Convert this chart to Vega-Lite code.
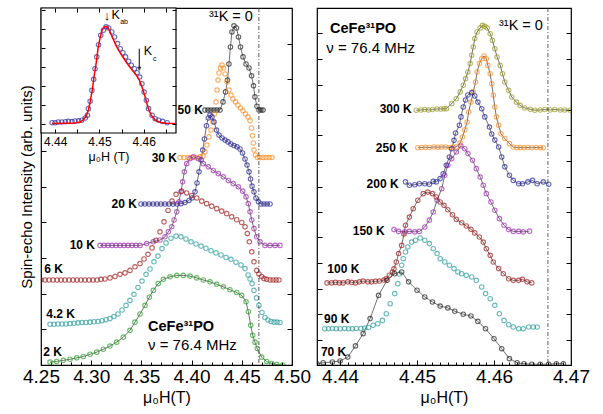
{
"$schema":"https://vega.github.io/schema/vega-lite/v6.json",
"background":"white",
"padding":{"left":18,"top":6,"right":10,"bottom":2},
"config":{"font":"Liberation Sans","view":{"stroke":"black","strokeWidth":1.2},"axis":{"grid":false,"domain":false,"labelFont":"Liberation Sans","titleFont":"Liberation Sans","labelColor":"black","titleColor":"black","tickColor":"black","titleFontWeight":"normal","tickWidth":1},"text":{"font":"Liberation Sans"}},
"datasets":{
"L":[
{"t":"50 K","x":4.4133,"y":7.14},{"t":"50 K","x":4.4163,"y":7.14},{"t":"50 K","x":4.4193,"y":7.14},{"t":"50 K","x":4.4223,"y":7.14},{"t":"50 K","x":4.4253,"y":7.14},{"t":"50 K","x":4.4283,"y":7.14},{"t":"50 K","x":4.4313,"y":7.37},{"t":"50 K","x":4.4338,"y":7.65},{"t":"50 K","x":4.4358,"y":7.98},{"t":"50 K","x":4.4372,"y":8.43},{"t":"50 K","x":4.4387,"y":8.91},{"t":"50 K","x":4.4402,"y":9.33},{"t":"50 K","x":4.4422,"y":9.5},{"t":"50 K","x":4.4447,"y":9.44},{"t":"50 K","x":4.4467,"y":9.19},{"t":"50 K","x":4.4487,"y":8.91},{"t":"50 K","x":4.4512,"y":8.63},{"t":"50 K","x":4.4542,"y":8.43},{"t":"50 K","x":4.4572,"y":8.32},{"t":"50 K","x":4.4597,"y":8.1},{"t":"50 K","x":4.4617,"y":7.82},{"t":"50 K","x":4.4631,"y":7.51},{"t":"50 K","x":4.4651,"y":7.25},{"t":"50 K","x":4.4671,"y":7.14},{"t":"50 K","x":4.4691,"y":7.14},{"t":"50 K","x":4.4711,"y":7.14},
{"t":"30 K","x":4.3884,"y":5.81},{"t":"30 K","x":4.3924,"y":5.81},{"t":"30 K","x":4.3964,"y":5.81},{"t":"30 K","x":4.4004,"y":5.81},{"t":"30 K","x":4.4044,"y":5.81},{"t":"30 K","x":4.4084,"y":5.83},{"t":"30 K","x":4.4114,"y":5.85},{"t":"30 K","x":4.4133,"y":5.97},{"t":"30 K","x":4.4153,"y":6.16},{"t":"30 K","x":4.4173,"y":6.39},{"t":"30 K","x":4.4193,"y":6.58},{"t":"30 K","x":4.4213,"y":6.81},{"t":"30 K","x":4.4228,"y":7.03},{"t":"30 K","x":4.4243,"y":7.37},{"t":"30 K","x":4.4253,"y":7.7},{"t":"30 K","x":4.4263,"y":7.98},{"t":"30 K","x":4.4273,"y":8.18},{"t":"30 K","x":4.4288,"y":8.32},{"t":"30 K","x":4.4303,"y":8.4},{"t":"30 K","x":4.4318,"y":8.32},{"t":"30 K","x":4.4333,"y":8.15},{"t":"30 K","x":4.4353,"y":7.93},{"t":"30 K","x":4.4372,"y":7.7},{"t":"30 K","x":4.4392,"y":7.56},{"t":"30 K","x":4.4412,"y":7.45},{"t":"30 K","x":4.4437,"y":7.37},{"t":"30 K","x":4.4462,"y":7.28},{"t":"30 K","x":4.4487,"y":7.2},{"t":"30 K","x":4.4512,"y":7.12},{"t":"30 K","x":4.4537,"y":7.03},{"t":"30 K","x":4.4562,"y":6.95},{"t":"30 K","x":4.4582,"y":6.84},{"t":"30 K","x":4.4597,"y":6.64},{"t":"30 K","x":4.4607,"y":6.42},{"t":"30 K","x":4.4615,"y":6.22},{"t":"30 K","x":4.4621,"y":6.02},{"t":"30 K","x":4.4636,"y":5.88},{"t":"30 K","x":4.4656,"y":5.81},{"t":"30 K","x":4.4681,"y":5.81},{"t":"30 K","x":4.4711,"y":5.81},{"t":"30 K","x":4.4741,"y":5.81},{"t":"30 K","x":4.4771,"y":5.81},{"t":"30 K","x":4.4801,"y":5.81},
{"t":"20 K","x":4.3496,"y":4.51},{"t":"20 K","x":4.3536,"y":4.51},{"t":"20 K","x":4.3576,"y":4.51},{"t":"20 K","x":4.3616,"y":4.51},{"t":"20 K","x":4.3655,"y":4.51},{"t":"20 K","x":4.3695,"y":4.51},{"t":"20 K","x":4.3735,"y":4.51},{"t":"20 K","x":4.3775,"y":4.51},{"t":"20 K","x":4.3815,"y":4.51},{"t":"20 K","x":4.3855,"y":4.51},{"t":"20 K","x":4.3894,"y":4.52},{"t":"20 K","x":4.3934,"y":4.55},{"t":"20 K","x":4.3974,"y":4.61},{"t":"20 K","x":4.4004,"y":4.68},{"t":"20 K","x":4.4034,"y":4.85},{"t":"20 K","x":4.4054,"y":5.1},{"t":"20 K","x":4.4074,"y":5.41},{"t":"20 K","x":4.4094,"y":5.74},{"t":"20 K","x":4.4111,"y":6.02},{"t":"20 K","x":4.4128,"y":6.33},{"t":"20 K","x":4.4148,"y":6.7},{"t":"20 K","x":4.4166,"y":6.92},{"t":"20 K","x":4.4183,"y":7.0},{"t":"20 K","x":4.4203,"y":6.95},{"t":"20 K","x":4.4223,"y":6.81},{"t":"20 K","x":4.4248,"y":6.58},{"t":"20 K","x":4.4273,"y":6.44},{"t":"20 K","x":4.4303,"y":6.36},{"t":"20 K","x":4.4333,"y":6.3},{"t":"20 K","x":4.4363,"y":6.25},{"t":"20 K","x":4.4392,"y":6.19},{"t":"20 K","x":4.4422,"y":6.15},{"t":"20 K","x":4.4452,"y":6.11},{"t":"20 K","x":4.4482,"y":6.05},{"t":"20 K","x":4.4507,"y":5.94},{"t":"20 K","x":4.4532,"y":5.77},{"t":"20 K","x":4.4552,"y":5.6},{"t":"20 K","x":4.4572,"y":5.41},{"t":"20 K","x":4.4587,"y":5.21},{"t":"20 K","x":4.4602,"y":5.01},{"t":"20 K","x":4.4621,"y":4.85},{"t":"20 K","x":4.4641,"y":4.68},{"t":"20 K","x":4.4666,"y":4.57},{"t":"20 K","x":4.4691,"y":4.51},{"t":"20 K","x":4.4721,"y":4.51},{"t":"20 K","x":4.4751,"y":4.51},{"t":"20 K","x":4.4781,"y":4.51},
{"t":"10 K","x":4.3088,"y":3.35},{"t":"10 K","x":4.3127,"y":3.35},{"t":"10 K","x":4.3167,"y":3.35},{"t":"10 K","x":4.3207,"y":3.35},{"t":"10 K","x":4.3247,"y":3.35},{"t":"10 K","x":4.3287,"y":3.35},{"t":"10 K","x":4.3327,"y":3.35},{"t":"10 K","x":4.3367,"y":3.35},{"t":"10 K","x":4.3406,"y":3.35},{"t":"10 K","x":4.3446,"y":3.35},{"t":"10 K","x":4.3486,"y":3.35},{"t":"10 K","x":4.3553,"y":3.4},{"t":"10 K","x":4.3618,"y":3.45},{"t":"10 K","x":4.3685,"y":3.5},{"t":"10 K","x":4.3735,"y":3.59},{"t":"10 K","x":4.3768,"y":3.73},{"t":"10 K","x":4.3802,"y":3.87},{"t":"10 K","x":4.3825,"y":4.06},{"t":"10 K","x":4.3852,"y":4.29},{"t":"10 K","x":4.3874,"y":4.57},{"t":"10 K","x":4.3894,"y":4.85},{"t":"10 K","x":4.3911,"y":5.13},{"t":"10 K","x":4.3927,"y":5.41},{"t":"10 K","x":4.3951,"y":5.64},{"t":"10 K","x":4.3984,"y":5.78},{"t":"10 K","x":4.4017,"y":5.83},{"t":"10 K","x":4.4067,"y":5.78},{"t":"10 K","x":4.4117,"y":5.64},{"t":"10 K","x":4.4166,"y":5.55},{"t":"10 K","x":4.4216,"y":5.45},{"t":"10 K","x":4.4266,"y":5.36},{"t":"10 K","x":4.4316,"y":5.27},{"t":"10 K","x":4.4366,"y":5.17},{"t":"10 K","x":4.4415,"y":5.08},{"t":"10 K","x":4.4465,"y":4.99},{"t":"10 K","x":4.4509,"y":4.87},{"t":"10 K","x":4.4542,"y":4.71},{"t":"10 K","x":4.4565,"y":4.52},{"t":"10 K","x":4.4582,"y":4.29},{"t":"10 K","x":4.4599,"y":4.06},{"t":"10 K","x":4.4621,"y":3.82},{"t":"10 K","x":4.4648,"y":3.59},{"t":"10 K","x":4.4681,"y":3.45},{"t":"10 K","x":4.4731,"y":3.35},{"t":"10 K","x":4.4781,"y":3.35},{"t":"10 K","x":4.4831,"y":3.35},{"t":"10 K","x":4.488,"y":3.35},
{"t":"6 K","x":4.25,"y":2.38},{"t":"6 K","x":4.254,"y":2.38},{"t":"6 K","x":4.258,"y":2.38},{"t":"6 K","x":4.262,"y":2.38},{"t":"6 K","x":4.266,"y":2.38},{"t":"6 K","x":4.2699,"y":2.38},{"t":"6 K","x":4.2739,"y":2.38},{"t":"6 K","x":4.2779,"y":2.38},{"t":"6 K","x":4.2819,"y":2.38},{"t":"6 K","x":4.2859,"y":2.38},{"t":"6 K","x":4.2898,"y":2.38},{"t":"6 K","x":4.2938,"y":2.38},{"t":"6 K","x":4.2978,"y":2.38},{"t":"6 K","x":4.3018,"y":2.38},{"t":"6 K","x":4.3058,"y":2.38},{"t":"6 K","x":4.3098,"y":2.4},{"t":"6 K","x":4.3137,"y":2.41},{"t":"6 K","x":4.3187,"y":2.44},{"t":"6 K","x":4.3237,"y":2.48},{"t":"6 K","x":4.3287,"y":2.54},{"t":"6 K","x":4.3337,"y":2.58},{"t":"6 K","x":4.3386,"y":2.65},{"t":"6 K","x":4.3436,"y":2.75},{"t":"6 K","x":4.3486,"y":2.84},{"t":"6 K","x":4.3526,"y":2.97},{"t":"6 K","x":4.3566,"y":3.1},{"t":"6 K","x":4.3606,"y":3.28},{"t":"6 K","x":4.3645,"y":3.49},{"t":"6 K","x":4.3685,"y":3.73},{"t":"6 K","x":4.3725,"y":4.01},{"t":"6 K","x":4.3765,"y":4.33},{"t":"6 K","x":4.3805,"y":4.59},{"t":"6 K","x":4.3845,"y":4.78},{"t":"6 K","x":4.3901,"y":4.87},{"t":"6 K","x":4.3951,"y":4.82},{"t":"6 K","x":4.4001,"y":4.75},{"t":"6 K","x":4.4051,"y":4.68},{"t":"6 K","x":4.4101,"y":4.59},{"t":"6 K","x":4.415,"y":4.52},{"t":"6 K","x":4.42,"y":4.45},{"t":"6 K","x":4.425,"y":4.38},{"t":"6 K","x":4.43,"y":4.31},{"t":"6 K","x":4.435,"y":4.24},{"t":"6 K","x":4.4399,"y":4.15},{"t":"6 K","x":4.4449,"y":4.07},{"t":"6 K","x":4.4499,"y":3.99},{"t":"6 K","x":4.4532,"y":3.87},{"t":"6 K","x":4.4555,"y":3.68},{"t":"6 K","x":4.4575,"y":3.45},{"t":"6 K","x":4.4599,"y":3.17},{"t":"6 K","x":4.4621,"y":2.89},{"t":"6 K","x":4.4648,"y":2.65},{"t":"6 K","x":4.4671,"y":2.55},{"t":"6 K","x":4.4698,"y":2.48},{"t":"6 K","x":4.4721,"y":2.42},{"t":"6 K","x":4.4748,"y":2.4},{"t":"6 K","x":4.4781,"y":2.38},{"t":"6 K","x":4.4811,"y":2.38},{"t":"6 K","x":4.4841,"y":2.38},{"t":"6 K","x":4.487,"y":2.38},
{"t":"4.2 K","x":4.259,"y":1.14},{"t":"4.2 K","x":4.2629,"y":1.14},{"t":"4.2 K","x":4.2669,"y":1.15},{"t":"4.2 K","x":4.2709,"y":1.15},{"t":"4.2 K","x":4.2749,"y":1.15},{"t":"4.2 K","x":4.2789,"y":1.16},{"t":"4.2 K","x":4.2829,"y":1.17},{"t":"4.2 K","x":4.2869,"y":1.18},{"t":"4.2 K","x":4.2908,"y":1.19},{"t":"4.2 K","x":4.2948,"y":1.19},{"t":"4.2 K","x":4.2988,"y":1.2},{"t":"4.2 K","x":4.3028,"y":1.21},{"t":"4.2 K","x":4.3068,"y":1.22},{"t":"4.2 K","x":4.3108,"y":1.24},{"t":"4.2 K","x":4.3147,"y":1.27},{"t":"4.2 K","x":4.3187,"y":1.3},{"t":"4.2 K","x":4.3227,"y":1.36},{"t":"4.2 K","x":4.3267,"y":1.43},{"t":"4.2 K","x":4.3307,"y":1.54},{"t":"4.2 K","x":4.3347,"y":1.67},{"t":"4.2 K","x":4.3386,"y":1.81},{"t":"4.2 K","x":4.3426,"y":1.98},{"t":"4.2 K","x":4.3466,"y":2.17},{"t":"4.2 K","x":4.3506,"y":2.35},{"t":"4.2 K","x":4.3546,"y":2.54},{"t":"4.2 K","x":4.3586,"y":2.69},{"t":"4.2 K","x":4.3625,"y":2.89},{"t":"4.2 K","x":4.3665,"y":3.05},{"t":"4.2 K","x":4.3705,"y":3.26},{"t":"4.2 K","x":4.3745,"y":3.42},{"t":"4.2 K","x":4.3795,"y":3.55},{"t":"4.2 K","x":4.3845,"y":3.61},{"t":"4.2 K","x":4.3894,"y":3.59},{"t":"4.2 K","x":4.3944,"y":3.53},{"t":"4.2 K","x":4.3994,"y":3.45},{"t":"4.2 K","x":4.4044,"y":3.39},{"t":"4.2 K","x":4.4094,"y":3.33},{"t":"4.2 K","x":4.4143,"y":3.27},{"t":"4.2 K","x":4.4193,"y":3.2},{"t":"4.2 K","x":4.4243,"y":3.14},{"t":"4.2 K","x":4.4293,"y":3.08},{"t":"4.2 K","x":4.4343,"y":3.01},{"t":"4.2 K","x":4.4392,"y":2.96},{"t":"4.2 K","x":4.4442,"y":2.88},{"t":"4.2 K","x":4.4492,"y":2.8},{"t":"4.2 K","x":4.4532,"y":2.7},{"t":"4.2 K","x":4.4562,"y":2.52},{"t":"4.2 K","x":4.4582,"y":2.41},{"t":"4.2 K","x":4.4602,"y":2.28},{"t":"4.2 K","x":4.4621,"y":2.09},{"t":"4.2 K","x":4.4646,"y":1.88},{"t":"4.2 K","x":4.4671,"y":1.67},{"t":"4.2 K","x":4.4701,"y":1.47},{"t":"4.2 K","x":4.4731,"y":1.33},{"t":"4.2 K","x":4.4761,"y":1.26},{"t":"4.2 K","x":4.4791,"y":1.22},{"t":"4.2 K","x":4.4821,"y":1.2},{"t":"4.2 K","x":4.4851,"y":1.2},{"t":"4.2 K","x":4.488,"y":1.19},
{"t":"2 K","x":4.259,"y":0.08},{"t":"2 K","x":4.2656,"y":0.1},{"t":"2 K","x":4.2722,"y":0.13},{"t":"2 K","x":4.2789,"y":0.16},{"t":"2 K","x":4.2856,"y":0.2},{"t":"2 K","x":4.2921,"y":0.24},{"t":"2 K","x":4.2988,"y":0.3},{"t":"2 K","x":4.3055,"y":0.36},{"t":"2 K","x":4.3121,"y":0.44},{"t":"2 K","x":4.3187,"y":0.53},{"t":"2 K","x":4.3254,"y":0.64},{"t":"2 K","x":4.332,"y":0.78},{"t":"2 K","x":4.3386,"y":0.97},{"t":"2 K","x":4.3436,"y":1.2},{"t":"2 K","x":4.3486,"y":1.43},{"t":"2 K","x":4.3536,"y":1.67},{"t":"2 K","x":4.3579,"y":1.9},{"t":"2 K","x":4.3619,"y":2.09},{"t":"2 K","x":4.3668,"y":2.28},{"t":"2 K","x":4.3718,"y":2.4},{"t":"2 K","x":4.3785,"y":2.47},{"t":"2 K","x":4.3852,"y":2.51},{"t":"2 K","x":4.3917,"y":2.51},{"t":"2 K","x":4.3984,"y":2.49},{"t":"2 K","x":4.4051,"y":2.44},{"t":"2 K","x":4.4117,"y":2.38},{"t":"2 K","x":4.4183,"y":2.33},{"t":"2 K","x":4.425,"y":2.26},{"t":"2 K","x":4.4316,"y":2.19},{"t":"2 K","x":4.4382,"y":2.11},{"t":"2 K","x":4.4449,"y":2.03},{"t":"2 K","x":4.4499,"y":1.95},{"t":"2 K","x":4.4542,"y":1.77},{"t":"2 K","x":4.4565,"y":1.49},{"t":"2 K","x":4.4589,"y":1.11},{"t":"2 K","x":4.4609,"y":0.83},{"t":"2 K","x":4.4631,"y":0.64},{"t":"2 K","x":4.4654,"y":0.46},{"t":"2 K","x":4.4698,"y":0.22},{"t":"2 K","x":4.4748,"y":0.1},{"t":"2 K","x":4.4798,"y":0.04},{"t":"2 K","x":4.4848,"y":0.01},{"t":"2 K","x":4.4907,"y":0.0}
],
"R":[
{"t":"300 K","x":4.4499,"y":9.99},{"t":"300 K","x":4.4505,"y":10.0},{"t":"300 K","x":4.451,"y":10.02},{"t":"300 K","x":4.4515,"y":10.0},{"t":"300 K","x":4.452,"y":10.02},{"t":"300 K","x":4.4526,"y":10.04},{"t":"300 K","x":4.4531,"y":10.04},{"t":"300 K","x":4.4535,"y":10.05},{"t":"300 K","x":4.4538,"y":10.05},{"t":"300 K","x":4.4545,"y":10.25},{"t":"300 K","x":4.4551,"y":10.44},{"t":"300 K","x":4.4556,"y":10.71},{"t":"300 K","x":4.456,"y":10.97},{"t":"300 K","x":4.4563,"y":11.23},{"t":"300 K","x":4.4566,"y":11.49},{"t":"300 K","x":4.4569,"y":11.82},{"t":"300 K","x":4.4571,"y":12.15},{"t":"300 K","x":4.4573,"y":12.47},{"t":"300 K","x":4.4575,"y":12.8},{"t":"300 K","x":4.4578,"y":13.06},{"t":"300 K","x":4.4582,"y":13.22},{"t":"300 K","x":4.4585,"y":13.32},{"t":"300 K","x":4.4588,"y":13.28},{"t":"300 K","x":4.4591,"y":13.22},{"t":"300 K","x":4.4595,"y":12.99},{"t":"300 K","x":4.4598,"y":12.73},{"t":"300 K","x":4.4601,"y":12.4},{"t":"300 K","x":4.4604,"y":12.08},{"t":"300 K","x":4.4608,"y":11.75},{"t":"300 K","x":4.4611,"y":11.42},{"t":"300 K","x":4.4614,"y":11.1},{"t":"300 K","x":4.4619,"y":10.77},{"t":"300 K","x":4.4623,"y":10.51},{"t":"300 K","x":4.4629,"y":10.31},{"t":"300 K","x":4.4634,"y":10.18},{"t":"300 K","x":4.464,"y":10.08},{"t":"300 K","x":4.4647,"y":10.03},{"t":"300 K","x":4.4653,"y":9.99},{"t":"300 K","x":4.466,"y":10.0},{"t":"300 K","x":4.4666,"y":10.02},{"t":"300 K","x":4.4673,"y":10.0},{"t":"300 K","x":4.4679,"y":10.02},{"t":"300 K","x":4.4686,"y":10.0},{"t":"300 K","x":4.4692,"y":10.0},{"t":"300 K","x":4.4699,"y":9.99},
{"t":"250 K","x":4.4501,"y":8.52},{"t":"250 K","x":4.4506,"y":8.53},{"t":"250 K","x":4.4511,"y":8.54},{"t":"250 K","x":4.4516,"y":8.53},{"t":"250 K","x":4.4522,"y":8.55},{"t":"250 K","x":4.4527,"y":8.54},{"t":"250 K","x":4.4532,"y":8.55},{"t":"250 K","x":4.4537,"y":8.55},{"t":"250 K","x":4.4543,"y":8.53},{"t":"250 K","x":4.4547,"y":8.55},{"t":"250 K","x":4.4551,"y":8.55},{"t":"250 K","x":4.4556,"y":8.71},{"t":"250 K","x":4.4559,"y":8.94},{"t":"250 K","x":4.4562,"y":9.22},{"t":"250 K","x":4.4565,"y":9.53},{"t":"250 K","x":4.4567,"y":9.92},{"t":"250 K","x":4.457,"y":10.31},{"t":"250 K","x":4.4573,"y":10.71},{"t":"250 K","x":4.4576,"y":11.1},{"t":"250 K","x":4.4578,"y":11.49},{"t":"250 K","x":4.4581,"y":11.82},{"t":"250 K","x":4.4584,"y":12.01},{"t":"250 K","x":4.4587,"y":12.12},{"t":"250 K","x":4.459,"y":12.01},{"t":"250 K","x":4.4592,"y":11.75},{"t":"250 K","x":4.4595,"y":11.42},{"t":"250 K","x":4.4597,"y":11.03},{"t":"250 K","x":4.4599,"y":10.58},{"t":"250 K","x":4.4601,"y":10.12},{"t":"250 K","x":4.4603,"y":9.73},{"t":"250 K","x":4.4606,"y":9.4},{"t":"250 K","x":4.4609,"y":9.07},{"t":"250 K","x":4.4614,"y":8.88},{"t":"250 K","x":4.462,"y":8.68},{"t":"250 K","x":4.4625,"y":8.55},{"t":"250 K","x":4.463,"y":8.52},{"t":"250 K","x":4.4634,"y":8.53},{"t":"250 K","x":4.4639,"y":8.52},{"t":"250 K","x":4.4644,"y":8.53},{"t":"250 K","x":4.4649,"y":8.52},{"t":"250 K","x":4.4655,"y":8.53},{"t":"250 K","x":4.466,"y":8.52},{"t":"250 K","x":4.4664,"y":8.52},
{"t":"200 K","x":4.4485,"y":7.18},{"t":"200 K","x":4.449,"y":7.05},{"t":"200 K","x":4.4497,"y":7.07},{"t":"200 K","x":4.4503,"y":7.11},{"t":"200 K","x":4.451,"y":7.11},{"t":"200 K","x":4.4516,"y":7.09},{"t":"200 K","x":4.4521,"y":7.2},{"t":"200 K","x":4.4525,"y":7.18},{"t":"200 K","x":4.453,"y":7.31},{"t":"200 K","x":4.4534,"y":7.5},{"t":"200 K","x":4.4538,"y":7.83},{"t":"200 K","x":4.4542,"y":8.16},{"t":"200 K","x":4.4545,"y":8.48},{"t":"200 K","x":4.4548,"y":8.81},{"t":"200 K","x":4.455,"y":9.1},{"t":"200 K","x":4.4555,"y":9.4},{"t":"200 K","x":4.4557,"y":9.73},{"t":"200 K","x":4.456,"y":10.12},{"t":"200 K","x":4.4563,"y":10.39},{"t":"200 K","x":4.4566,"y":10.59},{"t":"200 K","x":4.4571,"y":10.68},{"t":"200 K","x":4.4575,"y":10.55},{"t":"200 K","x":4.4579,"y":10.31},{"t":"200 K","x":4.4584,"y":10.05},{"t":"200 K","x":4.4588,"y":9.73},{"t":"200 K","x":4.4594,"y":9.33},{"t":"200 K","x":4.4597,"y":9.06},{"t":"200 K","x":4.4601,"y":8.82},{"t":"200 K","x":4.4606,"y":8.55},{"t":"200 K","x":4.461,"y":8.16},{"t":"200 K","x":4.4614,"y":7.77},{"t":"200 K","x":4.462,"y":7.44},{"t":"200 K","x":4.4625,"y":7.24},{"t":"200 K","x":4.4632,"y":7.11},{"t":"200 K","x":4.4637,"y":7.11},{"t":"200 K","x":4.4644,"y":7.18},{"t":"200 K","x":4.465,"y":7.24},{"t":"200 K","x":4.4656,"y":7.11},{"t":"200 K","x":4.4664,"y":7.18},{"t":"200 K","x":4.4671,"y":7.09},
{"t":"150 K","x":4.447,"y":5.31},{"t":"150 K","x":4.4476,"y":5.24},{"t":"150 K","x":4.4484,"y":5.22},{"t":"150 K","x":4.449,"y":5.24},{"t":"150 K","x":4.4497,"y":5.22},{"t":"150 K","x":4.4503,"y":5.24},{"t":"150 K","x":4.451,"y":5.41},{"t":"150 K","x":4.4516,"y":5.68},{"t":"150 K","x":4.4521,"y":6.0},{"t":"150 K","x":4.4526,"y":6.46},{"t":"150 K","x":4.4532,"y":6.91},{"t":"150 K","x":4.4536,"y":7.44},{"t":"150 K","x":4.454,"y":7.83},{"t":"150 K","x":4.4545,"y":8.09},{"t":"150 K","x":4.4551,"y":8.35},{"t":"150 K","x":4.4557,"y":8.59},{"t":"150 K","x":4.4562,"y":8.48},{"t":"150 K","x":4.4566,"y":8.29},{"t":"150 K","x":4.4572,"y":8.03},{"t":"150 K","x":4.4577,"y":7.7},{"t":"150 K","x":4.4582,"y":7.37},{"t":"150 K","x":4.4586,"y":7.05},{"t":"150 K","x":4.459,"y":6.72},{"t":"150 K","x":4.4596,"y":6.39},{"t":"150 K","x":4.4601,"y":6.07},{"t":"150 K","x":4.4607,"y":5.74},{"t":"150 K","x":4.4613,"y":5.48},{"t":"150 K","x":4.4619,"y":5.31},{"t":"150 K","x":4.4625,"y":5.24},{"t":"150 K","x":4.4632,"y":5.24},{"t":"150 K","x":4.4638,"y":5.22},{"t":"150 K","x":4.4646,"y":5.25},
{"t":"100 K","x":4.4383,"y":3.22},{"t":"100 K","x":4.4389,"y":3.22},{"t":"100 K","x":4.4394,"y":3.24},{"t":"100 K","x":4.4399,"y":3.22},{"t":"100 K","x":4.4404,"y":3.22},{"t":"100 K","x":4.441,"y":3.26},{"t":"100 K","x":4.4415,"y":3.24},{"t":"100 K","x":4.442,"y":3.22},{"t":"100 K","x":4.4425,"y":3.26},{"t":"100 K","x":4.443,"y":3.29},{"t":"100 K","x":4.4436,"y":3.26},{"t":"100 K","x":4.4441,"y":3.26},{"t":"100 K","x":4.4446,"y":3.28},{"t":"100 K","x":4.4451,"y":3.29},{"t":"100 K","x":4.4457,"y":3.33},{"t":"100 K","x":4.446,"y":3.38},{"t":"100 K","x":4.4464,"y":3.52},{"t":"100 K","x":4.4468,"y":3.65},{"t":"100 K","x":4.447,"y":3.77},{"t":"100 K","x":4.4473,"y":4.04},{"t":"100 K","x":4.4476,"y":4.37},{"t":"100 K","x":4.448,"y":4.69},{"t":"100 K","x":4.4483,"y":5.14},{"t":"100 K","x":4.4485,"y":5.48},{"t":"100 K","x":4.449,"y":5.8},{"t":"100 K","x":4.4495,"y":6.13},{"t":"100 K","x":4.4501,"y":6.46},{"t":"100 K","x":4.4508,"y":6.72},{"t":"100 K","x":4.4514,"y":6.78},{"t":"100 K","x":4.452,"y":6.72},{"t":"100 K","x":4.4525,"y":6.59},{"t":"100 K","x":4.453,"y":6.39},{"t":"100 K","x":4.4535,"y":6.26},{"t":"100 K","x":4.454,"y":6.09},{"t":"100 K","x":4.4546,"y":5.89},{"t":"100 K","x":4.4551,"y":5.71},{"t":"100 K","x":4.4558,"y":5.58},{"t":"100 K","x":4.4564,"y":5.45},{"t":"100 K","x":4.457,"y":5.32},{"t":"100 K","x":4.4575,"y":5.18},{"t":"100 K","x":4.4581,"y":5.02},{"t":"100 K","x":4.4586,"y":4.82},{"t":"100 K","x":4.459,"y":4.56},{"t":"100 K","x":4.4595,"y":4.3},{"t":"100 K","x":4.4599,"y":4.04},{"t":"100 K","x":4.4606,"y":3.78},{"t":"100 K","x":4.4612,"y":3.58},{"t":"100 K","x":4.4619,"y":3.38},{"t":"100 K","x":4.4625,"y":3.32},{"t":"100 K","x":4.4632,"y":3.32},{"t":"100 K","x":4.4637,"y":3.36},{"t":"100 K","x":4.4643,"y":3.26},{"t":"100 K","x":4.4649,"y":3.22},
{"t":"90 K","x":4.438,"y":1.42},{"t":"90 K","x":4.4385,"y":1.42},{"t":"90 K","x":4.439,"y":1.43},{"t":"90 K","x":4.4395,"y":1.42},{"t":"90 K","x":4.44,"y":1.42},{"t":"90 K","x":4.4406,"y":1.43},{"t":"90 K","x":4.4411,"y":1.42},{"t":"90 K","x":4.4416,"y":1.42},{"t":"90 K","x":4.4421,"y":1.43},{"t":"90 K","x":4.4427,"y":1.43},{"t":"90 K","x":4.4432,"y":1.45},{"t":"90 K","x":4.4437,"y":1.47},{"t":"90 K","x":4.4443,"y":1.56},{"t":"90 K","x":4.4449,"y":1.62},{"t":"90 K","x":4.4455,"y":1.75},{"t":"90 K","x":4.446,"y":2.01},{"t":"90 K","x":4.4465,"y":2.4},{"t":"90 K","x":4.4471,"y":2.8},{"t":"90 K","x":4.4475,"y":3.19},{"t":"90 K","x":4.4477,"y":3.57},{"t":"90 K","x":4.448,"y":3.91},{"t":"90 K","x":4.4482,"y":4.17},{"t":"90 K","x":4.4485,"y":4.43},{"t":"90 K","x":4.4488,"y":4.63},{"t":"90 K","x":4.4493,"y":4.82},{"t":"90 K","x":4.4498,"y":4.89},{"t":"90 K","x":4.4504,"y":4.98},{"t":"90 K","x":4.451,"y":4.89},{"t":"90 K","x":4.4516,"y":4.76},{"t":"90 K","x":4.4521,"y":4.56},{"t":"90 K","x":4.4526,"y":4.37},{"t":"90 K","x":4.453,"y":4.17},{"t":"90 K","x":4.4536,"y":4.04},{"t":"90 K","x":4.4542,"y":3.91},{"t":"90 K","x":4.4548,"y":3.78},{"t":"90 K","x":4.4553,"y":3.65},{"t":"90 K","x":4.4558,"y":3.58},{"t":"90 K","x":4.4564,"y":3.52},{"t":"90 K","x":4.4571,"y":3.45},{"t":"90 K","x":4.4577,"y":3.32},{"t":"90 K","x":4.4584,"y":3.06},{"t":"90 K","x":4.4589,"y":2.8},{"t":"90 K","x":4.4595,"y":2.6},{"t":"90 K","x":4.4601,"y":2.34},{"t":"90 K","x":4.4607,"y":2.01},{"t":"90 K","x":4.4613,"y":1.75},{"t":"90 K","x":4.4619,"y":1.58},{"t":"90 K","x":4.4625,"y":1.49},{"t":"90 K","x":4.4632,"y":1.42},{"t":"90 K","x":4.4638,"y":1.42},{"t":"90 K","x":4.4645,"y":1.49},{"t":"90 K","x":4.4651,"y":1.49},{"t":"90 K","x":4.4656,"y":1.49},
{"t":"70 K","x":4.437,"y":0.05},{"t":"70 K","x":4.4378,"y":0.09},{"t":"70 K","x":4.439,"y":0.12},{"t":"70 K","x":4.44,"y":0.16},{"t":"70 K","x":4.441,"y":0.31},{"t":"70 K","x":4.442,"y":0.75},{"t":"70 K","x":4.443,"y":1.23},{"t":"70 K","x":4.4439,"y":1.82},{"t":"70 K","x":4.445,"y":2.73},{"t":"70 K","x":4.4461,"y":3.32},{"t":"70 K","x":4.4471,"y":3.58},{"t":"70 K","x":4.448,"y":3.65},{"t":"70 K","x":4.4489,"y":3.26},{"t":"70 K","x":4.45,"y":2.93},{"t":"70 K","x":4.451,"y":2.67},{"t":"70 K","x":4.452,"y":2.47},{"t":"70 K","x":4.453,"y":2.31},{"t":"70 K","x":4.454,"y":2.24},{"t":"70 K","x":4.4549,"y":2.11},{"t":"70 K","x":4.456,"y":1.99},{"t":"70 K","x":4.457,"y":1.92},{"t":"70 K","x":4.4579,"y":1.71},{"t":"70 K","x":4.4589,"y":1.42},{"t":"70 K","x":4.46,"y":1.03},{"t":"70 K","x":4.461,"y":0.64},{"t":"70 K","x":4.462,"y":0.25},{"t":"70 K","x":4.463,"y":0.09},{"t":"70 K","x":4.4639,"y":0.05},{"t":"70 K","x":4.4649,"y":0.03},{"t":"70 K","x":4.466,"y":0.03},{"t":"70 K","x":4.4671,"y":0.03},{"t":"70 K","x":4.4681,"y":0.05},{"t":"70 K","x":4.469,"y":0.05}
],
"I":[
{"x":4.4393,"y":0.07},{"x":4.44,"y":0.07},{"x":4.4407,"y":0.11},{"x":4.4415,"y":0.11},{"x":4.4423,"y":0.12},{"x":4.443,"y":0.14},{"x":4.4438,"y":0.13},{"x":4.4445,"y":0.16},{"x":4.4453,"y":0.17},{"x":4.446,"y":0.2},{"x":4.4468,"y":0.32},{"x":4.4473,"y":0.46},{"x":4.4475,"y":0.81},{"x":4.4479,"y":1.2},{"x":4.4483,"y":1.77},{"x":4.4487,"y":2.35},{"x":4.449,"y":2.91},{"x":4.4494,"y":3.53},{"x":4.4498,"y":4.17},{"x":4.4503,"y":4.67},{"x":4.4509,"y":4.93},{"x":4.4515,"y":5.11},{"x":4.4521,"y":5.05},{"x":4.4528,"y":4.84},{"x":4.4534,"y":4.58},{"x":4.4541,"y":4.23},{"x":4.4547,"y":3.96},{"x":4.4553,"y":3.75},{"x":4.4559,"y":3.53},{"x":4.4566,"y":3.3},{"x":4.4572,"y":3.09},{"x":4.4579,"y":2.91},{"x":4.4585,"y":2.7},{"x":4.4591,"y":2.47},{"x":4.4596,"y":2.12},{"x":4.4601,"y":1.68},{"x":4.4606,"y":1.25},{"x":4.4611,"y":0.81},{"x":4.4619,"y":0.46},{"x":4.4626,"y":0.28},{"x":4.4634,"y":0.2},{"x":4.4643,"y":0.14},{"x":4.4653,"y":0.07}
],
"F":[
{"x":4.4393,"y":0.03},{"x":4.4423,"y":0.04},{"x":4.4445,"y":0.05},{"x":4.4457,"y":0.11},{"x":4.4463,"y":0.21},{"x":4.447,"y":0.42},{"x":4.4475,"y":0.74},{"x":4.4479,"y":1.16},{"x":4.4484,"y":1.79},{"x":4.4488,"y":2.53},{"x":4.4493,"y":3.26},{"x":4.4497,"y":4.0},{"x":4.4502,"y":4.58},{"x":4.4506,"y":4.95},{"x":4.4511,"y":5.11},{"x":4.4515,"y":5.13},{"x":4.452,"y":5.05},{"x":4.4524,"y":4.84},{"x":4.4531,"y":4.47},{"x":4.4538,"y":4.11},{"x":4.4547,"y":3.74},{"x":4.4556,"y":3.42},{"x":4.4565,"y":3.11},{"x":4.4574,"y":2.84},{"x":4.4583,"y":2.58},{"x":4.459,"y":2.32},{"x":4.4597,"y":1.9},{"x":4.4604,"y":1.37},{"x":4.461,"y":0.84},{"x":4.4617,"y":0.47},{"x":4.4626,"y":0.21},{"x":4.4638,"y":0.08},{"x":4.4651,"y":0.04},{"x":4.4672,"y":0.03}
]
},
"hconcat":[
{
"width":251,"height":357,
"resolve":{"scale":{"x":"independent","y":"independent"}},
"layer":[
{
"resolve":{"axis":{"x":"independent","y":"independent"}},
"layer":[
{"data":{"name":"L"},"transform":[{"filter":{"field":"t","oneOf":["2 K","10 K","20 K","50 K"]}}],"mark":{"type":"line","color":"#111111","strokeWidth":0.6,"clip":true},
"encoding":{
"x":{"field":"x","type":"quantitative","scale":{"domain":[4.25,4.5],"nice":false,"zero":false},"axis":{"orient":"bottom","values":[4.25,4.3,4.35,4.4,4.45,4.5],"labels":false,"tickSize":-5,"title":null}},
"y":{"field":"y","type":"quantitative","scale":{"domain":[0,10],"nice":false},"axis":{"orient":"right","values":[1,2,3,4,5,6,7,8,9],"labels":false,"tickSize":-5,"title":null}},
"detail":{"field":"t"}}},
{"data":{"name":"L"},"mark":{"type":"point","filled":false,"size":20,"strokeWidth":1.1,"clip":true},
"encoding":{
"x":{"field":"x","type":"quantitative","axis":{"orient":"bottom","values":[4.25,4.3,4.35,4.4,4.45,4.5],"format":".2f","ticks":false,"labelFontSize":19,"labelPadding":2,"labelFlush":false,"title":"μ₀H(T)","titleFontSize":16,"titlePadding":3}},
"y":{"field":"y","type":"quantitative","axis":{"orient":"left","values":[1,2,3,4,5,6,7,8,9],"labels":false,"tickSize":-5,"title":"Spin-echo Intensity (arb. units)","titleFontSize":15,"titlePadding":6}},
"color":{"field":"t","type":"nominal","scale":{"domain":["2 K","4.2 K","6 K","10 K","20 K","30 K","50 K"],"range":["#26a026","#2a9c9c","#a01c1c","#a22bb6","#25259c","#ff8c1e","#222222"]},"legend":null}}},
{"data":{"values":[{"x":4.4113,"y":7.14,"label":"50 K"},{"x":4.3855,"y":5.81,"label":"30 K"},{"x":4.3456,"y":4.51,"label":"20 K"},{"x":4.3038,"y":3.36,"label":"10 K"},{"x":4.2719,"y":2.7,"label":"6 K"},{"x":4.2839,"y":1.44,"label":"4.2 K"},{"x":4.2709,"y":0.36,"label":"2 K"}]},
"mark":{"type":"text","align":"right","baseline":"middle","fontSize":12,"fontWeight":"bold"},
"encoding":{
"x":{"field":"x","type":"quantitative","axis":{"orient":"bottom","values":[4.26,4.27,4.28,4.29,4.31,4.32,4.33,4.34,4.36,4.37,4.38,4.39,4.41,4.42,4.43,4.44,4.46,4.47,4.48,4.49],"labels":false,"tickSize":-3,"title":null}},
"y":{"field":"y","type":"quantitative","axis":null},
"text":{"field":"label"}}},
{"data":{"values":[{"x":4.3566,"y":1.06,"s":"CeFe³¹PO"}]},"mark":{"type":"text","align":"left","baseline":"middle","fontSize":14.5,"fontWeight":"bold"},
"encoding":{"x":{"field":"x","type":"quantitative","axis":null},"y":{"field":"y","type":"quantitative","axis":null},"text":{"field":"s"}}},
{"data":{"values":[{"x":4.3566,"y":0.56,"s":"ν = 76.4 MHz"}]},"mark":{"type":"text","align":"left","baseline":"middle","fontSize":15},
"encoding":{"x":{"field":"x","type":"quantitative","axis":null},"y":{"field":"y","type":"quantitative","axis":null},"text":{"field":"s"}}},
{"data":{"values":[{"x":4.4392,"y":9.75,"s":"³¹K = 0"}]},"mark":{"type":"text","align":"center","baseline":"middle","fontSize":14.5},
"encoding":{"x":{"field":"x","type":"quantitative","axis":null},"y":{"field":"y","type":"quantitative","axis":null},"text":{"field":"s"}}},
{"data":{"values":[{}]},"mark":{"type":"rule","strokeDash":[4,2,1,2],"color":"#333333","strokeWidth":0.8},
"encoding":{"x":{"datum":4.467,"type":"quantitative","axis":null}}}
]
},
{
"resolve":{"axis":{"x":"independent","y":"independent"}},
"layer":[
{"data":{"values":[{}]},"mark":{"type":"rect","fill":"white","stroke":"black","strokeWidth":1.2},
"encoding":{
"x":{"datum":4.4368,"type":"quantitative","scale":{"domain":[4.4368,4.4673],"range":[0,135],"nice":false,"zero":false},"axis":{"orient":"bottom","offset":-232,"values":[4.44,4.45,4.46],"format":".2f","ticks":false,"labelFontSize":12,"labelPadding":3,"title":"μ₀H (T)","titleFontSize":12.5,"titlePadding":3,"zindex":1}},
"x2":{"datum":4.4673},
"y":{"datum":-0.47,"type":"quantitative","scale":{"domain":[-0.47,6.1],"range":[125,0],"nice":false,"zero":false},"axis":{"orient":"left","values":[0,1,2,3,4,5,6],"labels":false,"tickSize":-4,"title":null,"zindex":1}},
"y2":{"datum":6.1}}},
{"data":{"name":"I"},"mark":{"type":"point","filled":false,"size":20,"strokeWidth":1.1,"color":"#2b2ba0"},
"encoding":{
"x":{"field":"x","type":"quantitative","axis":{"orient":"bottom","offset":-232,"values":[4.44,4.445,4.45,4.455,4.46,4.465],"labels":false,"tickSize":-4,"title":null,"zindex":1}},
"y":{"field":"y","type":"quantitative","axis":{"orient":"right","offset":-116,"values":[0,1,2,3,4,5,6],"labels":false,"tickSize":-4,"title":null,"zindex":1}}}},
{"data":{"name":"F"},"mark":{"type":"line","color":"#ff0000","strokeWidth":1.5},
"encoding":{
"x":{"field":"x","type":"quantitative","axis":{"orient":"top","values":[4.44,4.445,4.45,4.455,4.46,4.465],"labels":false,"tickSize":-4,"title":null,"zindex":1}},
"y":{"field":"y","type":"quantitative","axis":null}}},
{"data":{"values":[{"x":4.4517,"y":5.68,"s":"↓"}]},"mark":{"type":"text","align":"center","baseline":"middle","fontSize":13,"fontWeight":"bold"},
"encoding":{"x":{"field":"x","type":"quantitative","axis":null},"y":{"field":"y","type":"quantitative","axis":null},"text":{"field":"s"}}},
{"data":{"values":[{"x":4.4527,"y":5.72,"s":"K"},{"x":4.46,"y":3.82,"s":"K"}]},"mark":{"type":"text","align":"left","baseline":"middle","fontSize":12.5},
"encoding":{"x":{"field":"x","type":"quantitative","axis":null},"y":{"field":"y","type":"quantitative","axis":null},"text":{"field":"s"}}},
{"data":{"values":[{"x":4.4547,"y":5.38,"s":"ab"},{"x":4.4621,"y":3.4,"s":"c"}]},"mark":{"type":"text","align":"left","baseline":"middle","fontSize":7},
"encoding":{"x":{"field":"x","type":"quantitative","axis":null},"y":{"field":"y","type":"quantitative","axis":null},"text":{"field":"s"}}},
{"data":{"values":[{"x":4.459,"y":3.96,"y2":2.95}]},"mark":{"type":"rule","color":"black","strokeWidth":1},
"encoding":{"x":{"field":"x","type":"quantitative","axis":null},"y":{"field":"y","type":"quantitative","axis":null},"y2":{"field":"y2"}}},
{"data":{"values":[{"x":4.459,"y":2.9}]},"mark":{"type":"point","shape":"triangle-down","filled":true,"color":"black","size":22},
"encoding":{"x":{"field":"x","type":"quantitative","axis":null},"y":{"field":"y","type":"quantitative","axis":null}}}
]
}
]
},
{
"width":254,"height":357,
"resolve":{"axis":{"x":"independent","y":"independent"}},
"layer":[
{"data":{"name":"R"},"transform":[{"filter":{"field":"t","oneOf":["70 K","100 K","150 K","200 K","250 K","300 K"]}}],"mark":{"type":"line","color":"#111111","strokeWidth":0.6,"clip":true},
"encoding":{
"x":{"field":"x","type":"quantitative","scale":{"domain":[4.437,4.47],"nice":false,"zero":false},"axis":{"orient":"bottom","values":[4.44,4.45,4.46,4.47],"labels":false,"tickSize":-5,"title":null}},
"y":{"field":"y","type":"quantitative","scale":{"domain":[0,14],"nice":false},"axis":{"orient":"right","values":[1,2,3,4,5,6,7,8,9,10,11,12,13],"labels":false,"tickSize":-5,"title":null}},
"detail":{"field":"t"}}},
{"data":{"name":"R"},"mark":{"type":"point","filled":false,"size":20,"strokeWidth":1.1,"clip":true},
"encoding":{
"x":{"field":"x","type":"quantitative","axis":{"orient":"bottom","values":[4.44,4.45,4.46,4.47],"format":".2f","ticks":false,"labelFontSize":19,"labelPadding":2,"labelFlush":false,"title":"μ₀H(T)","titleFontSize":16,"titlePadding":3}},
"y":{"field":"y","type":"quantitative","axis":{"orient":"left","values":[1,2,3,4,5,6,7,8,9,10,11,12,13],"labels":false,"tickSize":-5,"title":null}},
"color":{"field":"t","type":"nominal","scale":{"domain":["70 K","90 K","100 K","150 K","200 K","250 K","300 K"],"range":["#222222","#2a9c9c","#a01c1c","#a22bb6","#25259c","#ff8c1e","#9c9c2a"]},"legend":null}}},
{"data":{"values":[{"x":4.4493,"y":10.04,"label":"300 K"},{"x":4.4488,"y":8.52,"label":"250 K"},{"x":4.4476,"y":7.09,"label":"200 K"},{"x":4.4458,"y":5.25,"label":"150 K"},{"x":4.4425,"y":3.75,"label":"100 K"},{"x":4.4412,"y":1.82,"label":"90 K"},{"x":4.4408,"y":0.51,"label":"70 K"}]},
"mark":{"type":"text","align":"right","baseline":"middle","fontSize":12,"fontWeight":"bold"},
"encoding":{
"x":{"field":"x","type":"quantitative","axis":{"orient":"bottom","values":[4.438,4.439,4.441,4.442,4.443,4.444,4.445,4.446,4.447,4.448,4.449,4.451,4.452,4.453,4.454,4.455,4.456,4.457,4.458,4.459,4.461,4.462,4.463,4.464,4.465,4.466,4.467,4.468,4.469],"labels":false,"tickSize":-3,"title":null}},
"y":{"field":"y","type":"quantitative","axis":null},
"text":{"field":"label"}}},
{"data":{"values":[{"x":4.4387,"y":13.19,"s":"CeFe³¹PO"}]},"mark":{"type":"text","align":"left","baseline":"middle","fontSize":14.5,"fontWeight":"bold"},
"encoding":{"x":{"field":"x","type":"quantitative","axis":null},"y":{"field":"y","type":"quantitative","axis":null},"text":{"field":"s"}}},
{"data":{"values":[{"x":4.4382,"y":12.44,"s":"ν = 76.4 MHz"}]},"mark":{"type":"text","align":"left","baseline":"middle","fontSize":15},
"encoding":{"x":{"field":"x","type":"quantitative","axis":null},"y":{"field":"y","type":"quantitative","axis":null},"text":{"field":"s"}}},
{"data":{"values":[{"x":4.4635,"y":13.29,"s":"³¹K = 0"}]},"mark":{"type":"text","align":"center","baseline":"middle","fontSize":14.5},
"encoding":{"x":{"field":"x","type":"quantitative","axis":null},"y":{"field":"y","type":"quantitative","axis":null},"text":{"field":"s"}}},
{"data":{"values":[{}]},"mark":{"type":"rule","strokeDash":[4,2,1,2],"color":"#333333","strokeWidth":0.8},
"encoding":{"x":{"datum":4.467,"type":"quantitative","axis":null}}}
]
}
],
"spacing":25,
"bounds":"flush",
"resolve":{"scale":{"color":"independent"}}
}
